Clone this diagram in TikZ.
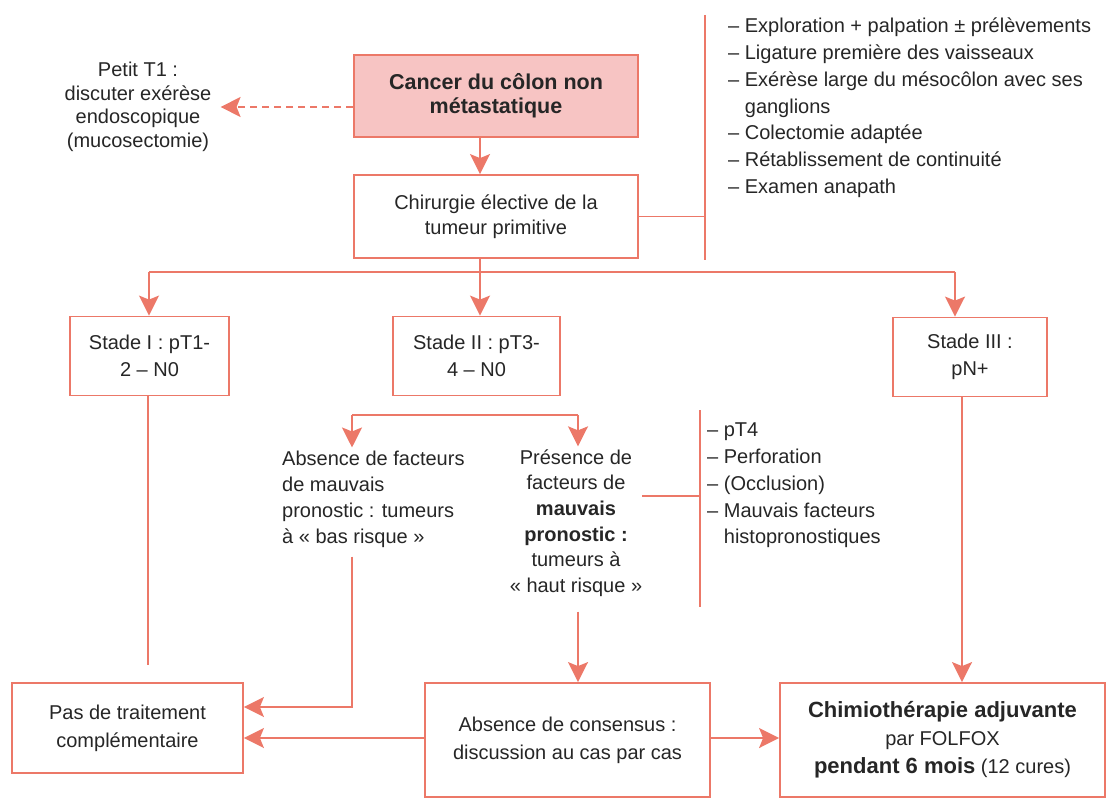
\documentclass[tikz,border=0pt]{standalone}
\usepackage{fontspec}
\setmainfont{Liberation Sans}
\usetikzlibrary{arrows.meta,calc}
\definecolor{salmon}{HTML}{EC7868}
\definecolor{pinkfill}{HTML}{F7C4C3}
\definecolor{txt}{HTML}{262626}
\newcommand\myfs{\fontsize{20}{26.7}\selectfont}
\newcommand\mybf{\bfseries\fontsize{21.5}{24}\selectfont}
\newcommand\chbf[1]{{\bfseries\fontsize{22}{28}\selectfont #1}}
\begin{document}
\begin{tikzpicture}[x=1pt,y=-1pt,
  line/.style={draw=salmon, line width=1.8pt},
  arr/.style={line, -{Stealth[length=20pt,width=20pt,inset=4pt]}},
  dasharr/.style={arr, dash pattern=on 7pt off 5pt},
  box/.style={draw=salmon, line width=1.8pt, inner sep=0pt, align=center, text=txt, font=\myfs},
  lbl/.style={inner sep=0pt, text=txt, font=\myfs}]
\useasboundingbox (0,0) rectangle (1109,800);

% top
\node[box, fill=pinkfill, minimum width=284pt, minimum height=82pt, font=\mybf] (cancer) at (496,96) {Cancer du côlon non\\métastatique};
\node[lbl, align=center, inner xsep=9pt, font=\fontsize{20}{23.5}\selectfont] (petit) at (138,107) {Petit T1 :\\discuter exérèse\\endoscopique\\(mucosectomie)};
\node[box, minimum width=284pt, minimum height=83pt, font=\fontsize{20}{25}\selectfont] (chir) at (496,216.5) {Chirurgie élective de la\\tumeur primitive};
\node[lbl, align=left, anchor=north west] (list1) at (728,18) {– Exploration + palpation ± prélèvements\\– Ligature première des vaisseaux\\– Exérèse large du mésocôlon avec ses\\\phantom{– }ganglions\\– Colectomie adaptée\\– Rétablissement de continuité\\– Examen anapath};

% stages
\node[box, minimum width=159pt, minimum height=79pt] (st1) at (149.5,356) {Stade I : pT1-\\2 – N0};
\node[box, minimum width=167pt, minimum height=79pt] (st2) at (476.5,356) {Stade II : pT3-\\4 – N0};
\node[box, minimum width=154pt, minimum height=79pt] (st3) at (970,357) {Stade III :\\pN+};

% middle texts
\node[lbl, align=left, anchor=west, inner ysep=3pt, font=\fontsize{20}{26}\selectfont] (abs) at (282,499) {Absence de facteurs\\de mauvais\\pronostic : tumeurs\\à « bas risque »};
\node[lbl, align=center, inner ysep=3pt, font=\fontsize{20}{25.6}\selectfont] (pres) at (576,523) {Présence de\\facteurs de\\\textbf{mauvais}\\\textbf{pronostic :}\\tumeurs à\\« haut risque »};
\node[lbl, align=left, anchor=north west] (list2) at (707,423) {– pT4\\– Perforation\\– (Occlusion)\\– Mauvais facteurs\\\phantom{– }histopronostiques};

% bottom
\node[box, minimum width=231pt, minimum height=90pt, font=\fontsize{20}{28}\selectfont] (pas) at (127.5,728) {Pas de traitement\\complémentaire};
\node[box, minimum width=285pt, minimum height=114pt, font=\fontsize{20}{28}\selectfont] (cons) at (567.5,740) {Absence de consensus :\\discussion au cas par cas};
\node[box, minimum width=325pt, minimum height=114pt, font=\fontsize{20}{28}\selectfont] (chimio) at (942.5,740) {\chbf{Chimiothérapie adjuvante}\\par FOLFOX\\\chbf{pendant 6 mois} (12 cures)};

% helper coordinates
\coordinate (xa) at (480,0);
\coordinate (h1) at (149,272);
\coordinate (h3) at (955,272);
\coordinate (b1t) at (705,15);
\coordinate (b1b) at (705,260);
\coordinate (s1) at (352,415);
\coordinate (s2) at (578,415);
\coordinate (b2t) at (700,410);
\coordinate (b2b) at (700,607);
\coordinate (st1end) at (148,665);
\coordinate (x3) at (962,0);
\coordinate (ya) at (0,707);
\coordinate (yb) at (0,738);

% connectors
\draw[dasharr] (cancer.west |- petit.east) -- (petit.east);
\draw[arr] (cancer.south -| xa) -- (chir.north -| xa);
\draw[line] (chir.east) -- (chir.east -| b1t);
\draw[line] (b1t) -- (b1b);
\draw[arr] (chir.south -| xa) -- (st2.north -| xa);
\draw[line] (h1) -- (h3);
\draw[arr] (h1) -- (h1 |- st1.north);
\draw[arr] (h3) -- (h3 |- st3.north);

\draw[line] (st2.south -| xa) -- (st2.south -| xa |- s1);
\draw[line] (s1) -- (s2);
\draw[arr] (s1) -- (s1 |- abs.north);
\draw[arr] (s2) -- (s2 |- pres.north);
\draw[line] ([yshift=27pt]pres.east) -- ([yshift=27pt]pres.east -| b2t);
\draw[line] (b2t) -- (b2b);

\draw[line] (st1.south -| st1end) -- (st1end);
\draw[arr] ([yshift=-6pt]abs.south -| s1) |- (pas.east |- ya);
\draw[arr] ([yshift=-12pt]pres.south -| s2) -- (cons.north -| s2);
\draw[arr] (cons.west |- yb) -- (pas.east |- yb);
\draw[arr] (cons.east |- yb) -- (chimio.west |- yb);
\draw[arr] (st3.south -| x3) -- (chimio.north -| x3);
\end{tikzpicture}
\end{document}
